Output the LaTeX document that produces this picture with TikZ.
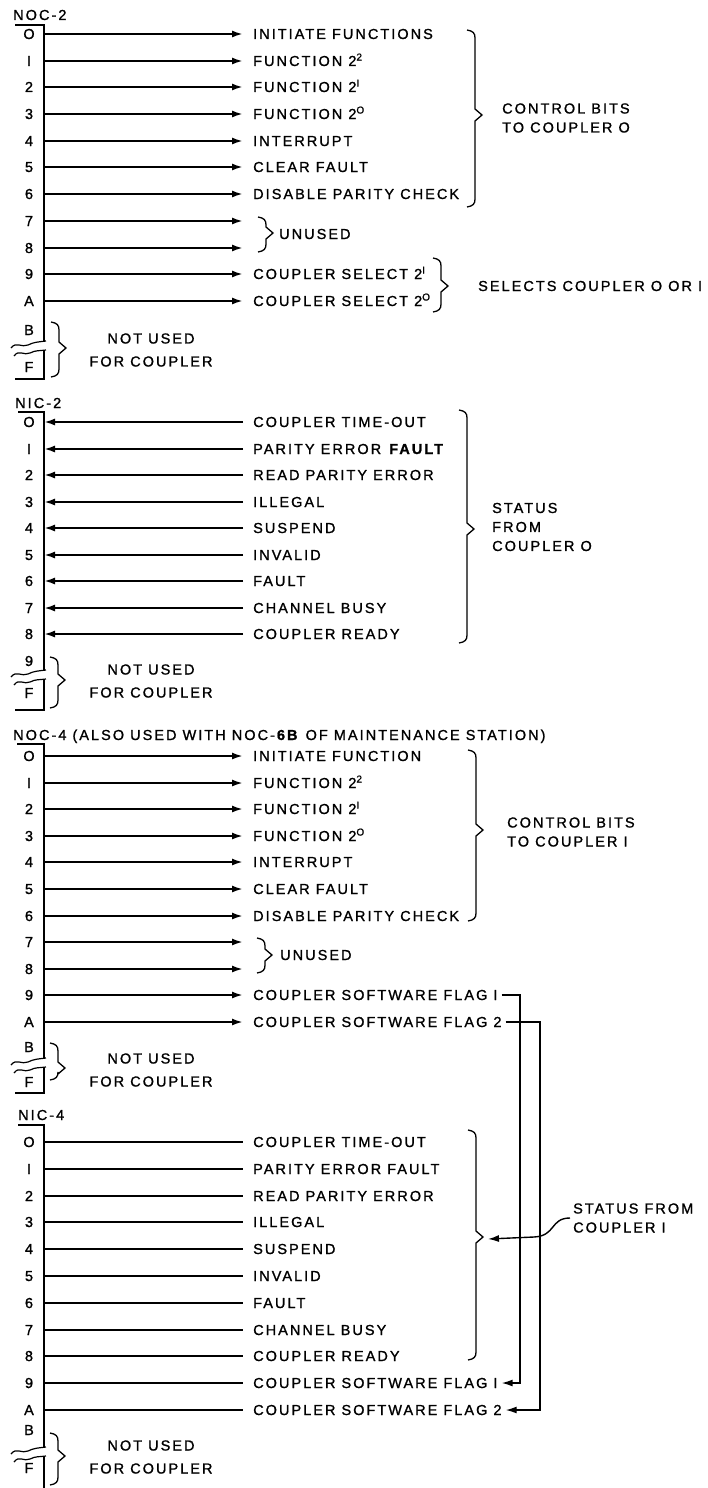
\documentclass[tikz,border=0pt]{standalone}
\usepackage{fontspec}
\setmainfont{Liberation Sans}[LetterSpace=14, FakeBold=1.2]
\usetikzlibrary{arrows.meta}
% broken bus: two squiggles, #1 = right end of the upper one
\newcommand{\wavy}[1]{%
  \draw[wave] (11,#1+7) .. controls (16,#1) and (22,#1+7) .. (28,#1+4) .. controls (34,#1+1) and (38,#1+1) .. (46,#1);
  \draw[wave] (14,#1+15) .. controls (19,#1+8) and (24,#1+15) .. (30,#1+12) .. controls (36,#1+9) and (39,#1+10) .. (46,#1+9);}
% square brace: x, top, tip, bottom
\newcommand{\bracket}[4]{%
  \draw[brk] (#1-8,#2) .. controls (#1-2,#2+1) and (#1,#2+3) .. (#1,#2+8) -- (#1,#3-6) -- (#1+7,#3) -- (#1,#3+6)
    -- (#1,#4-8) .. controls (#1,#4-3) and (#1-2,#4-1) .. (#1-8,#4);}
\newcommand{\sups}[1]{\raisebox{5.5pt}{\fontsize{10}{10}\selectfont #1}}

\begin{document}
\begin{tikzpicture}[x=1pt, y=-1pt,
  txt/.style={font=\fontsize{14.5}{16}\selectfont, inner sep=0pt, text height=10pt, text depth=0pt},
  lbl/.style={txt, anchor=west},
  note/.style={font=\fontsize{14.5}{19}\selectfont, inner sep=0pt, align=left, anchor=west},
  unused/.style={font=\fontsize{14.5}{23}\selectfont, inner sep=0pt, align=center},
  wire/.style={line width=2pt},
  wave/.style={line width=1.2pt},
  brk/.style={line width=1.3pt, line join=miter},
  arr/.style={wire, -{Latex[length=11pt,width=7pt]}},
]
\useasboundingbox (0,0) rectangle (708,1488);

% ---- NOC-2
\node[lbl] (noc2) at (13,15) {NOC-2};
\draw[wire] (15,25) -- (44,25) -- (44,341) (44,350) -- (44,379) -- (15,379);
\wavy{341}
\foreach \i/\nm/\lab in {0/O/INITIATE FUNCTIONS, 1/I/FUNCTION 2\sups{2}, 2/2/FUNCTION 2\sups{I},
    3/3/FUNCTION 2\sups{O}, 4/4/INTERRUPT, 5/5/CLEAR FAULT, 6/6/DISABLE PARITY CHECK, 7/7/{}, 8/8/{},
    9/9/COUPLER SELECT 2\sups{I}, 10/A/COUPLER SELECT 2\sups{O}} {
  \pgfmathsetmacro\y{round(34+26.7*\i)}
  \node[txt] (n1\i) at (29,\y) {\nm};
  \coordinate (b1\i) at (44,\y);
  \node[lbl] (t1\i) at (253,\y) {\lab};
  \draw[arr] (b1\i) -- ([xshift=-10pt]t1\i.west);
}
\node[txt] (n1B) at (29,330) {B};
\node[txt] (n1F) at (29,367) {F};
\bracket{475}{30}{115}{207}
\node[note] (ctl0) at (502,118) {CONTROL BITS\\TO COUPLER O};
\bracket{266}{217}{233}{252}
\node[lbl] (unu1) at (279,234) {UNUSED};
\bracket{441}{258}{286}{312}
\node[lbl] (sel) at (478,286) {SELECTS COUPLER O OR I};
\bracket{59}{322}{348}{377}
\node[unused] (nu1) at (151,350) {NOT USED\\FOR COUPLER};

% ---- NIC-2
\node[lbl] (nic2) at (15,403) {NIC-2};
\draw[wire] (18,412) -- (44,412) -- (44,670) (44,679) -- (44,710) -- (15,710);
\wavy{670}
\foreach \i/\nm/\lab in {0/O/COUPLER TIME-OUT, 1/I/PARITY ERROR \textbf{FAULT}, 2/2/READ PARITY ERROR, 3/3/ILLEGAL,
    4/4/SUSPEND, 5/5/INVALID, 6/6/FAULT, 7/7/CHANNEL BUSY, 8/8/COUPLER READY} {
  \pgfmathsetmacro\y{round(422+26.5*\i)}
  \node[txt] (n2\i) at (29,\y) {\nm};
  \coordinate (b2\i) at (44,\y);
  \node[lbl] (t2\i) at (253,\y) {\lab};
  \draw[arr] ([xshift=-10pt]t2\i.west) -- (b2\i);
}
\node[txt] (n29) at (29,661) {9};
\node[txt] (n2F) at (29,693) {F};
\bracket{467}{410}{529}{643}
\node[note] (sts0) at (492,527) {STATUS\\FROM\\COUPLER O};
\bracket{58}{657}{680}{708}
\node[unused] (nu2) at (151,681) {NOT USED\\FOR COUPLER};

% ---- NOC-4
\node[lbl] (noc4) at (13,735) {NOC-4 (ALSO USED WITH NOC-\textbf{6B} OF MAINTENANCE STATION)};
\draw[wire] (17,744) -- (44,744) -- (44,1058) (44,1067) -- (44,1093) -- (15,1093);
\wavy{1058}
\foreach \i/\nm/\lab in {0/O/INITIATE FUNCTION, 1/I/FUNCTION 2\sups{2}, 2/2/FUNCTION 2\sups{I},
    3/3/FUNCTION 2\sups{O}, 4/4/INTERRUPT, 5/5/CLEAR FAULT, 6/6/DISABLE PARITY CHECK, 7/7/{}, 8/8/{},
    9/9/COUPLER SOFTWARE FLAG I, 10/A/COUPLER SOFTWARE FLAG 2} {
  \pgfmathsetmacro\y{round(756+26.6*\i)}
  \node[txt] (n3\i) at (29,\y) {\nm};
  \coordinate (b3\i) at (44,\y);
  \node[lbl] (t3\i) at (253,\y) {\lab};
  \draw[arr] (b3\i) -- ([xshift=-10pt]t3\i.west);
}
\node[txt] (n3B) at (29,1047) {B};
\node[txt] (n3F) at (29,1082) {F};
\bracket{476}{750}{830}{921}
\node[note] (ctl1) at (507,832) {CONTROL BITS\\TO COUPLER I};
\bracket{265}{938}{955}{973}
\node[lbl] (unu3) at (280,955) {UNUSED};
\bracket{58}{1043}{1068}{1080}
\node[unused] (nu3) at (151,1070) {NOT USED\\FOR COUPLER};

% ---- NIC-4
\node[lbl] (nic4) at (18,1115) {NIC-4};
\draw[wire] (18,1125) -- (44,1125) -- (44,1447) (44,1456) -- (44,1488);
\wavy{1447}
\foreach \i/\nm/\lab in {0/O/COUPLER TIME-OUT, 1/I/PARITY ERROR FAULT, 2/2/READ PARITY ERROR, 3/3/ILLEGAL,
    4/4/SUSPEND, 5/5/INVALID, 6/6/FAULT, 7/7/CHANNEL BUSY, 8/8/COUPLER READY,
    9/9/COUPLER SOFTWARE FLAG I, 10/A/COUPLER SOFTWARE FLAG 2} {
  \pgfmathsetmacro\y{round(1142+26.8*\i)}
  \node[txt] (n4\i) at (29,\y) {\nm};
  \coordinate (b4\i) at (44,\y);
  \node[lbl] (t4\i) at (253,\y) {\lab};
  \draw[wire] (b4\i) -- ([xshift=-10pt]t4\i.west);
}
\node[txt] (n4B) at (29,1430) {B};
\node[txt] (n4F) at (29,1468) {F};
\bracket{476}{1130}{1237}{1360}
\node[note] (sts1) at (573,1218) {STATUS FROM\\COUPLER I};
\coordinate (tip4) at (488,1239);
\draw[arr, line width=1.4pt] ([xshift=-3pt]sts1.west) .. controls (550,1218) and (556,1236) .. (534,1237) -- (tip4);
\bracket{58}{1433}{1456}{1485}
\node[unused] (nu4) at (151,1457) {NOT USED\\FOR COUPLER};

% software flags, NOC-4 out to NIC-4 in
\coordinate (v1) at (520,1200);
\coordinate (v2) at (540,1200);
\draw[arr, line width=1.4pt] ([xshift=4pt]t39.east) -| (v1) |- ([xshift=4pt]t49.east);
\draw[arr, line width=1.4pt] ([xshift=4pt]t310.east) -| (v2) |- ([xshift=4pt]t410.east);
\end{tikzpicture}
\end{document}
